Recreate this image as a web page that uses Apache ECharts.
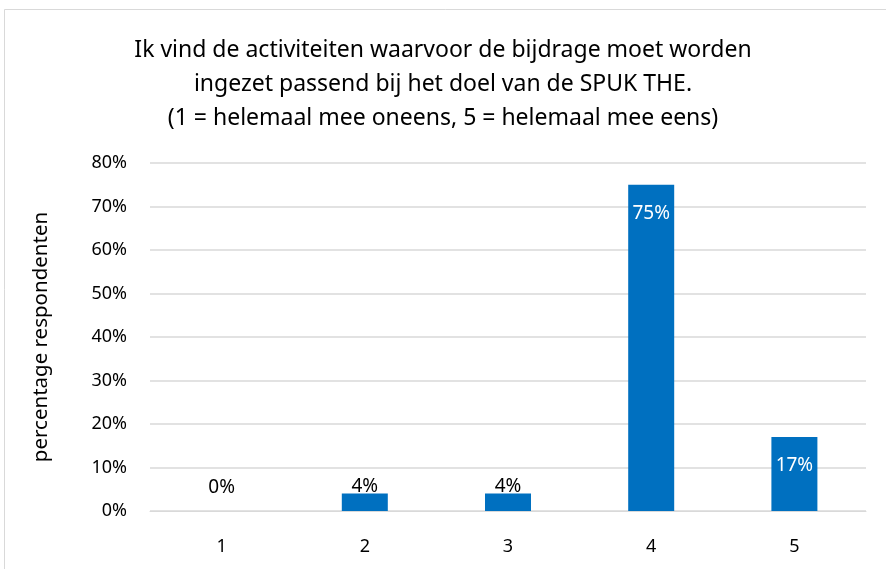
<!DOCTYPE html>
<html>
<head>
<meta charset="utf-8">
<script src="https://cdn.jsdelivr.net/npm/echarts@6/dist/echarts.min.js"></script>
<style>
  html, body { margin: 0; padding: 0; background: #fff; }
  #chart { width: 886px; height: 569px; }
</style>
</head>
<body>
<div id="chart"></div>
<script>
  // antwoordcategorieen en percentages
  const categories = ['1', '2', '3', '4', '5'];
  const values = [0, 4, 4, 75, 17];
  const yTicks = [0, 10, 20, 30, 40, 50, 60, 70, 80];

  const font = '"Noto Sans", sans-serif';
  const barColor = '#0070C0';

  // grote balken krijgen het label binnenin (wit), kleine erboven (zwart)
  const data = values.map(v => {
    const inside = v > 10;
    return {
      value: v,
      label: {
        position: inside ? 'insideTop' : 'top',
        distance: inside ? 19 : (v === 0 ? 14 : -2),
        color: inside ? '#fff' : '#000'
      }
    };
  });

  const chart = echarts.init(document.getElementById('chart'));
  chart.setOption({
    backgroundColor: '#fff',
    animation: false,
    title: {
      text: 'Ik vind de activiteiten waarvoor de bijdrage moet worden\ningezet passend bij het doel van de SPUK THE.\n(1 = helemaal mee oneens, 5 = helemaal mee eens)',
      left: 'center',
      top: 28,
      textStyle: {
        fontFamily: font,
        fontWeight: 'normal',
        fontSize: 23,
        lineHeight: 34,
        color: '#000'
      }
    },
    graphic: [{
      type: 'rect',
      shape: { x: 4.5, y: 9.5, width: 900, height: 600 },
      style: { fill: 'none', stroke: '#d9d9d9', lineWidth: 1 }
    }],
    grid: { left: 150, right: 20, top: 163, bottom: 58 },
    xAxis: {
      type: 'category',
      data: categories,
      axisLine: { lineStyle: { color: '#d9d9d9' } },
      axisTick: { show: false },
      axisLabel: { fontFamily: font, fontSize: 18, color: '#000', margin: 27 }
    },
    yAxis: {
      type: 'value',
      min: yTicks[0],
      max: yTicks[yTicks.length - 1],
      interval: 10,
      name: 'percentage respondenten',
      nameLocation: 'middle',
      nameGap: 98,
      nameTextStyle: { fontFamily: font, fontSize: 20.5, color: '#000' },
      axisLine: { show: false },
      axisTick: { show: false },
      splitLine: { lineStyle: { color: '#d9d9d9', width: 1.5 } },
      axisLabel: {
        fontFamily: font, fontSize: 18, color: '#000', margin: 23,
        formatter: '{value}%'
      }
    },
    series: [{
      type: 'bar',
      data: data,
      barWidth: 46,
      itemStyle: { color: barColor },
      label: {
        show: true,
        fontFamily: font,
        fontSize: 19,
        formatter: '{c}%'
      }
    }]
  });
</script>
</body>
</html>
